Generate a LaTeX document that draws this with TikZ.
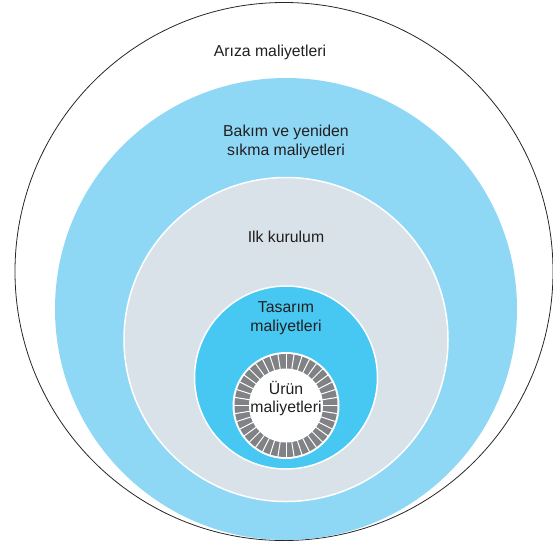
\documentclass[tikz,border=0pt]{standalone}
\usepackage{fontspec}
\setmainfont{Liberation Sans}
\begin{document}
\begin{tikzpicture}[x=1pt,y=-1pt,line cap=round]

    % let's define some key values (pixel grid, y downwards)
    \def\xc{286}
    \def\rfailure{269}
    \def\rservice{231}
    \def\rinstall{162}
    \def\rdesign{91.5}
    \def\rproduct{53.5}
    \def\rteethout{51.5}
    \def\rteethin{37}
    \def\nteeth{40}
    \coordinate (cfailure) at (284,271.5);
    \coordinate (cservice) at (\xc,309);
    \coordinate (cinstall) at (\xc,339.5);
    \coordinate (cdesign) at (\xc,377.5);
    \coordinate (cproduct) at (\xc,405.5);

    % colours
    \definecolor{textgray}{RGB}{35,31,32}
    \definecolor{servicefill}{RGB}{142,216,246}
    \definecolor{installfill}{RGB}{216,226,232}
    \definecolor{designfill}{RGB}{71,200,243}
    \definecolor{gearfill}{RGB}{128,130,133}

    % Styles
    \tikzstyle{costtext}=[text=textgray, align=center,
        font=\fontsize{15.8}{19.5}\selectfont]
    \tikzstyle{ring}=[draw=white, line width=1.5pt]

    \useasboundingbox (0,0) rectangle (553,544);

    % failure costs
    \draw[line width=0.8pt, black!85] (cfailure) circle (\rfailure pt);

    % maintenance costs
    \fill[servicefill] (cservice) circle (\rservice pt);

    % installation
    \filldraw[ring, fill=installfill] (cinstall) circle (\rinstall pt);

    % design costs
    \filldraw[ring, fill=designfill] (cdesign) circle (\rdesign pt);

    % product costs with its toothed ring
    \fill[white] (cproduct) circle (\rproduct pt);
    \fill[gearfill] (cproduct) circle (\rteethout pt);
    \fill[white] (cproduct) circle (\rteethin pt);
    \foreach \i in {1,...,\nteeth}
        \draw[white, line width=1pt]
            ([shift={(\i*360/\nteeth:\rteethin pt - 1pt)}]cproduct)
            -- ([shift={(\i*360/\nteeth:\rteethout pt + 1pt)}]cproduct);

    % texts
    \node[costtext] (failure) at (270,52) {Arıza maliyetleri};
    \node[costtext] (service) at (\xc,142) {Bakım ve yeniden\\sıkma maliyetleri};
    \node[costtext] (install) at (\xc,237) {Ilk kurulum};
    \node[costtext] (design) at (\xc,318) {Tasarım\\maliyetleri};
    \node[costtext, font=\fontsize{15.8}{18}\selectfont] (product) at (\xc,399)
        {Ürün\\maliyetleri};

\end{tikzpicture}
\end{document}
